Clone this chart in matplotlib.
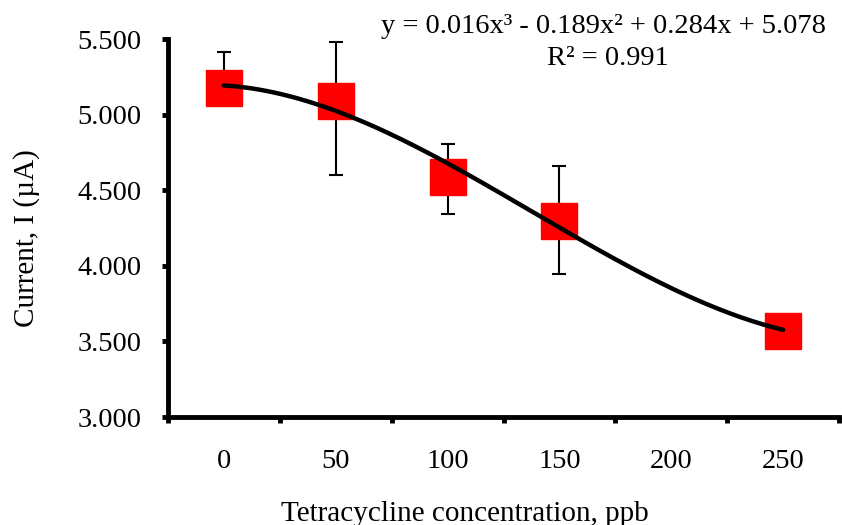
import numpy as np
import matplotlib
matplotlib.use('Agg')
import matplotlib.pyplot as plt

plt.rcParams['font.family'] = ['Liberation Serif', 'DejaVu Serif']

# Category axis (Excel style): labels at positions 1..6
categories = ['0', '50', '100', '150', '200', '250']
conc = [0, 50, 100, 150, 250]
current = [5.175, 5.092, 4.588, 4.298, 3.572]
err_up = [0.24, 0.39, 0.215, 0.36, 0.0]
err_down = [0.0, 0.49, 0.245, 0.35, 0.0]

eq_text = 'y = 0.016x³ - 0.189x² + 0.284x + 5.078'
r2_text = 'R² = 0.991'

FS = 20.5

cat_pos = {int(c): i + 1 for i, c in enumerate(categories)}
xpos = np.array([cat_pos[c] for c in conc], dtype=float)
yval = np.array(current)

fig = plt.figure(figsize=(8.42, 5.25), dpi=100)
ax = fig.add_axes([0.1995, 0.2057, 0.797, 0.72])

# error bars behind markers
ax.errorbar(xpos, yval, yerr=[err_down, err_up], fmt='none', ecolor='black',
            elinewidth=1.5, capsize=5, capthick=1.5, zorder=1)
ax.plot(xpos, yval, 's', color='#ff0000', markersize=26, zorder=2)

# cubic trendline fitted on category positions
coef = np.polyfit(xpos, yval, 3)
xs = np.linspace(xpos[0], xpos[-1], 200)
ax.plot(xs, np.polyval(coef, xs), color='black', lw=3.2, solid_capstyle='round', zorder=3)

ax.set_xlim(0.5, 6.5)
ax.set_ylim(3.0, 5.5)
ax.set_yticks(np.arange(3.0, 5.51, 0.5))
ax.set_yticklabels([f'{v:.3f}' for v in np.arange(3.0, 5.51, 0.5)])
ax.set_xticks(np.arange(1, 7))
ax.set_xticklabels(categories)
ax.set_xticks(np.arange(0.5, 6.6, 1), minor=True)
ax.tick_params(axis='x', which='major', length=0, pad=23, labelsize=FS)
ax.tick_params(axis='x', which='minor', length=4, width=3.5, direction='out')
ax.tick_params(axis='y', length=4, width=3.5, direction='out', pad=15, labelsize=FS)

for side in ['top', 'right']:
    ax.spines[side].set_visible(False)
for side in ['left', 'bottom']:
    ax.spines[side].set_linewidth(3.5)

ax.set_xlabel('Tetracycline concentration, ppb', fontsize=21)
ax.xaxis.set_label_coords(0.443, -0.221)
ax.set_ylabel('Current, I (µA)', fontsize=21)
ax.yaxis.set_label_coords(-0.19, 0.4735)

fig.text(0.717, 1 - 33 / 525, eq_text, fontsize=FS, ha='center', va='baseline')
fig.text(0.722, 1 - 65 / 525, r2_text, fontsize=FS, ha='center', va='baseline')

fig.savefig('out.png', dpi=100)
